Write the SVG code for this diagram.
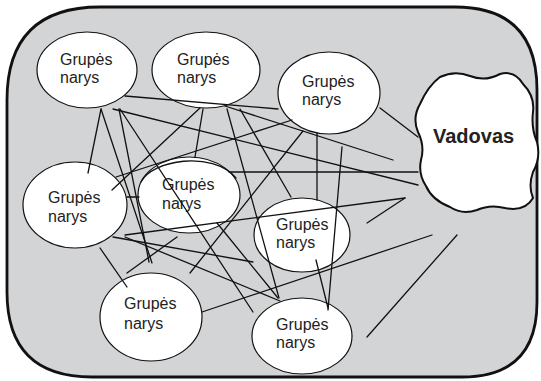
<svg xmlns="http://www.w3.org/2000/svg" width="541" height="381" viewBox="0 0 541 381">
<style>
.frame{fill:#d3d4d6;stroke:#111;stroke-width:2.8}
.node ellipse{fill:#fff;stroke:#111;stroke-width:1.2}
.node text{font-family:"Liberation Sans",Arial,sans-serif;font-size:16px;fill:#222}
.lead path{fill:#fff;stroke:#111;stroke-width:2}
.lead text{font-family:"Liberation Sans",Arial,sans-serif;font-size:20px;font-weight:bold;fill:#222}
#connectors line,#connectors path{stroke:#111;stroke-width:1.3;stroke-linecap:round;fill:none}
</style>
<path class="frame" d="M100,7 H455 Q537,7 537,90 V302 Q537,377 462,377 H92 Q7,377 7,292 V100 Q7,7 100,7 Z"/>
<g id="n1" class="node"><ellipse cx="87" cy="70" rx="50" ry="38"/><text x="60" y="65">Grupės</text><text x="60" y="83">narys</text></g>
<g id="n2" class="node"><ellipse cx="206" cy="70" rx="54" ry="38"/><text x="177" y="65">Grupės</text><text x="177" y="83">narys</text></g>
<g id="n3" class="node"><ellipse cx="329" cy="93" rx="51" ry="41"/><text x="302" y="87">Grupės</text><text x="302" y="105">narys</text></g>
<g id="n5" class="node"><ellipse cx="75" cy="205" rx="52" ry="43"/><text x="48" y="203">Grupės</text><text x="48" y="222">narys</text></g>
<g id="n6" class="node"><ellipse cx="189" cy="195" rx="51" ry="38"/><text x="162" y="190">Grupės</text><text x="162" y="209">narys</text></g>
<g id="n7" class="node"><ellipse cx="302" cy="235" rx="48" ry="37"/><text x="276" y="230">Grupės</text><text x="276" y="248">narys</text></g>
<g id="n8" class="node"><ellipse cx="151" cy="317" rx="51" ry="44"/><text x="124" y="309">Grupės</text><text x="124" y="329">narys</text></g>
<g id="n9" class="node"><ellipse cx="302" cy="336" rx="50" ry="38"/><text x="276" y="330">Grupės</text><text x="276" y="348">narys</text></g>
<g id="vadovas" class="lead"><path d="M440,77 Q455,70 470,76 Q485,82 500,74 Q515,70 523,84 Q535,96 533,112 Q531,128 537,142 Q541,158 533,172 Q528,186 533,198 Q525,212 505,208 Q490,204 477,210 Q462,215 450,207 Q432,200 426,186 Q418,174 421,160 Q425,146 418,132 Q412,118 420,104 Q428,86 440,77 Z"/><text x="433" y="143">Vadovas</text></g>
<g id="connectors">
<line x1="101" y1="109" x2="88" y2="173"/>
<line x1="101" y1="109" x2="152" y2="263"/>
<line x1="119" y1="109" x2="149" y2="262"/>
<line x1="120" y1="109" x2="253" y2="312"/>
<line x1="113" y1="109" x2="418" y2="185"/>
<line x1="125" y1="96" x2="278" y2="109"/>
<line x1="225" y1="106" x2="393" y2="160"/>
<line x1="227" y1="109" x2="279" y2="298"/>
<line x1="240" y1="109" x2="291" y2="197"/>
<line x1="200" y1="108" x2="112" y2="190"/>
<line x1="203" y1="109" x2="195" y2="157"/>
<line x1="229" y1="172" x2="418" y2="172"/>
<line x1="317" y1="133" x2="317" y2="200"/>
<line x1="342" y1="147" x2="328" y2="310"/>
<line x1="190" y1="273" x2="303" y2="131"/>
<line x1="380" y1="108" x2="418" y2="137"/>
<line x1="127" y1="197" x2="139" y2="197"/>
<line x1="100" y1="248" x2="127" y2="287"/>
<line x1="125" y1="235" x2="405" y2="198"/>
<line x1="405" y1="198" x2="367" y2="223"/>
<line x1="113" y1="237" x2="253" y2="262"/>
<line x1="125" y1="237" x2="280" y2="301"/>
<line x1="127" y1="273" x2="177" y2="237"/>
<line x1="202" y1="312" x2="432" y2="235"/>
<line x1="457" y1="235" x2="367" y2="337"/>
<line x1="316" y1="260" x2="328" y2="308"/>
<line x1="217" y1="223" x2="278" y2="298"/>
<line x1="292" y1="120" x2="116" y2="177"/>
<path d="M141,182 C152,160 212,150 236,178"/>
</g>
</svg>
